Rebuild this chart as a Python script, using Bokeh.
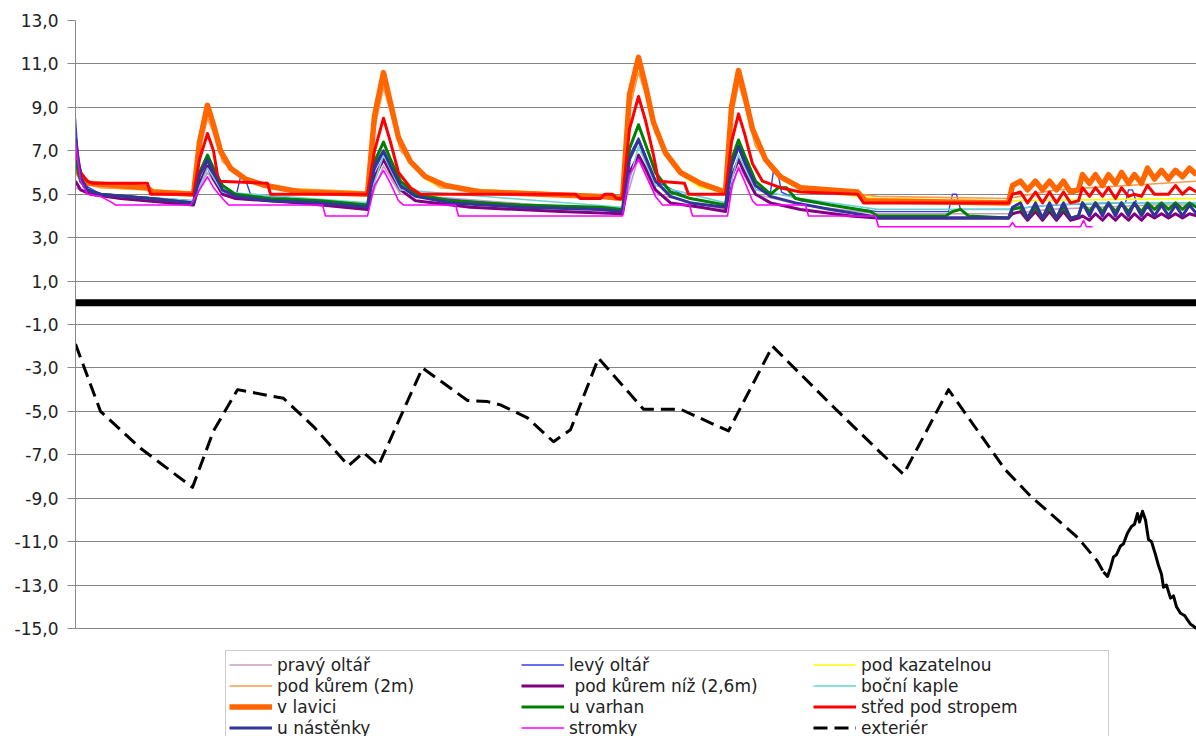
from bokeh.plotting import figure
from bokeh.models import Range1d, FixedTicker, Span, Legend, LegendItem, ColumnDataSource
from bokeh.embed import file_html
from bokeh.resources import INLINE

# ---------------- data ----------------
# measurement index (time axis, no labels shown in the original)
y_ticks = [13, 11, 9, 7, 5, 3, 1, -1, -3, -5, -7, -9, -11, -13, -15]
y_tick_labels = ["13,0", "11,0", "9,0", "7,0", "5,0", "3,0", "1,0", "-1,0",
                 "-3,0", "-5,0", "-7,0", "-9,0", "-11,0", "-13,0", "-15,0"]

# shared time index for the last (daily oscillation) part
tail_t = [937, 945, 952, 960, 967, 974, 981, 988, 995, 1003, 1007, 1014, 1020, 1027,
          1033, 1040, 1046, 1053, 1059, 1066, 1072, 1079, 1086, 1093, 1100, 1107, 1114, 1121]

pravy_oltar = [(0, 5.3), (10, 5.1), (118, 4.6), (132, 6.0), (147, 5.0), (292, 4.4), (308, 6.3),
               (325, 5.0), (547, 4.2), (563, 6.7), (580, 5.0), (650, 4.3), (663, 6.3), (680, 5.0),
               (725, 4.5), (802, 4.1), (933, 4.1), (975, 4.3), (1025, 4.4), (1075, 4.5), (1121, 4.5)]

levy_oltar = [(0, 8.5), (3, 6.5), (10, 5.4), (25, 5.0), (118, 4.7), (124, 5.8), (132, 6.5), (138, 5.9),
              (147, 5.2), (161, 5.0), (165, 5.8), (169, 5.8), (175, 5.0), (225, 4.8), (292, 4.5),
              (299, 6.1), (308, 6.9), (315, 6.2), (325, 5.3), (340, 4.9), (445, 4.5), (547, 4.3),
              (554, 6.8), (563, 7.6), (570, 6.8), (580, 5.6), (615, 4.8), (650, 4.5), (656, 6.3),
              (663, 7.1), (669, 6.4), (680, 5.2), (695, 5.1), (698, 6.1), (702, 6.1), (706, 5.1),
              (725, 4.7), (802, 4.2), (873, 4.2), (877, 5.0), (881, 5.0), (885, 4.3), (933, 4.3),
              (975, 4.5), (1050, 4.6), (1053, 5.2), (1057, 5.2), (1061, 4.6), (1121, 4.6)]

pod_kazatelnou = [(0, 6.4), (10, 5.6), (25, 5.3), (118, 5.1), (124, 7.2), (132, 8.8), (138, 8.0),
                  (147, 6.6), (170, 5.6), (195, 5.3), (292, 5.1), (299, 8.3), (308, 10.2), (315, 8.9),
                  (325, 7.2), (350, 5.7), (365, 5.3), (547, 4.9), (554, 9.2), (563, 10.9), (570, 9.7),
                  (580, 7.8), (605, 5.9), (625, 5.3), (650, 5.1), (656, 8.7), (663, 10.3), (669, 9.3),
                  (680, 7.3), (705, 5.7), (725, 5.2), (802, 4.8), (933, 4.7), (1121, 4.8)]

pod_kurem_2m = [(0, 6.2), (10, 5.5), (25, 5.3), (118, 5.1), (124, 7.0), (132, 8.5), (138, 7.8),
                (147, 6.5), (170, 5.6), (195, 5.3), (292, 5.1), (299, 8.0), (308, 9.9), (315, 8.8),
                (325, 7.0), (350, 5.8), (365, 5.3), (547, 4.9), (554, 8.9), (563, 10.6), (570, 9.6),
                (580, 7.8), (605, 5.9), (625, 5.4), (650, 5.1), (656, 8.4), (663, 10.1), (669, 9.2),
                (680, 7.2), (705, 5.8), (725, 5.3), (802, 4.9), (933, 4.8), (980, 5.2), (1121, 5.6)]

pod_kurem_niz = [(0, 5.6), (5, 5.2), (15, 5.0), (45, 4.8), (118, 4.5), (124, 5.5), (132, 6.3), (138, 5.7),
                 (147, 5.0), (160, 4.8), (225, 4.6), (292, 4.3), (299, 5.8), (308, 6.6), (315, 6.0),
                 (325, 5.2), (340, 4.7), (395, 4.4), (485, 4.2), (547, 4.1), (554, 6.0), (563, 6.8),
                 (570, 6.2), (580, 5.2), (595, 4.6), (625, 4.4), (650, 4.2), (656, 5.8), (663, 6.6),
                 (669, 6.0), (680, 5.0), (695, 4.6), (725, 4.3), (775, 4.0), (802, 3.9), (933, 3.9)]
pod_kurem_niz_tail = [4.1, 4.2, 3.8, 4.2, 3.8, 4.2, 3.8, 4.2, 3.8, 3.9, 4.0, 3.8, 4.1, 3.8,
                      4.1, 3.8, 4.1, 3.8, 4.1, 3.8, 4.1, 3.9, 4.1, 3.9, 4.1, 3.9, 4.1, 4.0]

bocni_kaple = [(0, 6.0), (10, 5.3), (25, 5.0), (118, 4.7), (132, 6.2), (147, 5.1), (292, 4.6), (308, 6.8),
               (325, 5.2), (547, 4.4), (563, 7.2), (580, 5.4), (650, 4.6), (663, 6.8), (680, 5.2),
               (725, 4.8), (802, 4.3), (933, 4.3), (975, 4.5), (1025, 4.6), (1121, 4.6)]

v_lavici = [(0, 6.3), (5, 5.8), (12, 5.5), (72, 5.3), (77, 5.1), (118, 5.0), (124, 7.4), (132, 9.1),
            (138, 8.2), (145, 7.0), (155, 6.2), (170, 5.7), (190, 5.4), (225, 5.1), (292, 5.0),
            (299, 8.6), (308, 10.6), (315, 9.2), (323, 7.6), (335, 6.5), (350, 5.8), (370, 5.4),
            (405, 5.1), (465, 5.0), (525, 4.9), (547, 4.8), (554, 9.6), (563, 11.3), (570, 10.0),
            (578, 8.3), (590, 6.9), (605, 6.0), (625, 5.5), (650, 5.1), (656, 9.0), (663, 10.7),
            (669, 9.6), (677, 8.0), (690, 6.6), (705, 5.8), (725, 5.3), (782, 5.1), (790, 4.7), (933, 4.6)]
v_lavici_tail = [5.4, 5.6, 5.2, 5.6, 5.2, 5.6, 5.2, 5.6, 5.1, 5.2, 5.9, 5.5, 5.9, 5.4,
                 5.9, 5.5, 6.0, 5.5, 5.9, 5.5, 6.2, 5.7, 6.1, 5.7, 6.1, 5.8, 6.2, 5.9]

u_varhan = [(0, 6.6), (5, 5.6), (12, 5.2), (25, 5.0), (75, 4.8), (118, 4.6), (124, 6.0), (132, 6.8),
            (138, 6.2), (147, 5.4), (160, 5.0), (195, 4.8), (245, 4.7), (292, 4.5), (299, 6.5),
            (308, 7.4), (315, 6.6), (325, 5.6), (340, 5.0), (375, 4.7), (445, 4.5), (525, 4.4),
            (547, 4.3), (554, 7.1), (563, 8.2), (570, 7.3), (580, 6.0), (595, 5.1), (615, 4.8),
            (650, 4.5), (656, 6.6), (663, 7.5), (669, 6.8), (680, 5.6), (695, 5.0), (703, 5.3),
            (711, 5.3), (720, 4.8), (755, 4.5), (795, 4.2), (802, 4.0), (870, 4.0), (877, 4.2),
            (885, 4.3), (893, 4.0), (933, 3.9)]
u_varhan_tail = [4.3, 4.4, 3.9, 4.4, 3.9, 4.4, 3.9, 4.4, 3.9, 4.0, 4.6, 4.2, 4.6, 4.2,
                 4.6, 4.2, 4.6, 4.2, 4.6, 4.2, 4.6, 4.3, 4.6, 4.3, 4.6, 4.3, 4.6, 4.4]

stred_pod_stropem = [(0, 7.2), (5, 6.0), (12, 5.6), (17, 5.5), (72, 5.5), (75, 5.0), (118, 5.0), (124, 6.6),
                     (132, 7.8), (138, 7.0), (143, 5.6), (192, 5.5), (195, 5.0), (292, 5.0), (299, 7.0),
                     (308, 8.5), (315, 7.4), (323, 6.0), (335, 5.3), (345, 5.0), (500, 5.0), (505, 4.8),
                     (525, 4.8), (529, 5.0), (537, 5.0), (541, 4.8), (547, 4.8), (554, 8.0), (563, 9.5),
                     (570, 8.4), (578, 6.8), (583, 5.6), (609, 5.5), (613, 5.0), (650, 5.0), (656, 7.4),
                     (663, 8.7), (669, 7.8), (677, 6.4), (687, 5.6), (705, 5.3), (725, 5.1), (782, 5.0),
                     (788, 4.6), (933, 4.6)]
stred_pod_stropem_tail = [5.0, 5.1, 4.6, 5.1, 4.6, 5.1, 4.6, 5.1, 4.6, 4.7, 5.3, 4.9, 5.3, 4.9,
                          5.3, 4.8, 5.3, 4.9, 5.0, 4.9, 5.4, 5.0, 5.0, 5.0, 5.4, 5.0, 5.3, 5.1]

u_nastenky = [(0, 7.6), (5, 5.8), (12, 5.2), (25, 5.0), (75, 4.8), (118, 4.6), (124, 5.9), (132, 6.6),
              (138, 6.0), (147, 5.2), (160, 4.9), (195, 4.7), (245, 4.6), (292, 4.4), (299, 6.3),
              (308, 7.0), (315, 6.3), (325, 5.4), (340, 4.9), (375, 4.6), (445, 4.4), (525, 4.3),
              (547, 4.2), (554, 6.6), (563, 7.5), (570, 6.7), (580, 5.6), (595, 4.9), (615, 4.6),
              (650, 4.4), (656, 6.3), (663, 7.2), (669, 6.5), (680, 5.4), (695, 4.9), (720, 4.6),
              (755, 4.3), (795, 4.0), (802, 3.9), (933, 3.9)]
u_nastenky_tail = [4.4, 4.6, 3.9, 4.6, 3.9, 4.6, 3.9, 4.6, 3.9, 4.0, 4.6, 4.0, 4.6, 4.0,
                   4.6, 4.0, 4.6, 4.0, 4.6, 4.0, 4.5, 4.0, 4.5, 4.0, 4.5, 4.0, 4.5, 4.1]

stromky = [(0, 7.4), (5, 5.6), (12, 5.0), (25, 4.9), (37, 4.6), (40, 4.5), (115, 4.5), (124, 5.2),
           (132, 5.8), (138, 5.3), (147, 4.8), (153, 4.5), (247, 4.5), (250, 4.0), (292, 4.0),
           (299, 5.4), (308, 6.1), (315, 5.5), (323, 4.7), (328, 4.5), (380, 4.5), (383, 4.0),
           (547, 4.0), (554, 5.9), (563, 6.6), (570, 5.9), (580, 4.9), (587, 4.5), (614, 4.5),
           (617, 4.0), (652, 4.0), (657, 5.5), (663, 6.2), (669, 5.6), (677, 4.7), (681, 4.5),
           (730, 4.5), (733, 4.0), (800, 4.0), (803, 3.5), (934, 3.5), (937, 3.7), (940, 3.5),
           (1005, 3.5), (1008, 3.8), (1011, 3.5), (1017, 3.5)]

exterier = [(0, -1.9), (25, -5.0), (65, -6.7), (117, -8.5), (138, -5.9), (162, -4.0), (208, -4.4),
            (238, -5.7), (273, -7.5), (288, -6.9), (303, -7.5), (347, -3.0), (392, -4.5), (412, -4.55),
            (425, -4.7), (452, -5.3), (478, -6.4), (495, -5.85), (523, -2.55), (568, -4.9), (605, -4.9),
            (643, -5.7), (653, -5.9), (697, -2.0), (758, -4.8), (805, -6.9), (828, -7.9), (873, -4.0),
            (930, -7.7), (955, -8.9), (1002, -10.8), (1022, -11.9), (1028, -12.4)]
exterier_hourly = [(1028, -12.4), (1032, -12.6), (1035, -12.2), (1038, -11.7), (1041, -11.6), (1045, -11.2),
                   (1048, -11.1), (1052, -10.6), (1056, -10.3), (1059, -10.2), (1062, -9.7), (1064, -10.1),
                   (1067, -9.6), (1070, -10.0), (1073, -10.9), (1076, -11.0), (1080, -11.6), (1083, -12.1),
                   (1086, -12.5), (1088, -13.1), (1091, -13.0), (1095, -13.6), (1098, -13.5), (1101, -14.0),
                   (1105, -14.3), (1109, -14.4), (1112, -14.6), (1115, -14.8), (1118, -14.9), (1121, -15.0)]

# ---------------- figure ----------------
# the frame reaches down to the canvas bottom so the legend (placed below the
# -15 line) is not clipped; axis line and grid are bounded to -15..13
y_bottom = 13 - 716 / (608 / 28)
p = figure(width=1196, height=736, output_backend="svg", toolbar_location=None,
           x_range=Range1d(0, 1121), y_range=Range1d(y_bottom, 13),
           min_border_left=75, min_border_right=0, min_border_top=20, min_border_bottom=0)
p.outline_line_color = None
p.background_fill_color = "white"
p.border_fill_color = "white"
p.xaxis.visible = False
p.xgrid.visible = False

ticker = FixedTicker(ticks=y_ticks)
p.yaxis.ticker = ticker
p.ygrid.ticker = ticker
p.yaxis.bounds = (-15, 13)
p.yaxis.major_label_overrides = dict(zip(y_ticks, y_tick_labels))
p.yaxis.axis_line_color = "#8a8a8a"
p.yaxis.major_tick_line_color = "#8a8a8a"
p.yaxis.major_tick_out = 8
p.yaxis.major_tick_in = 0
p.yaxis.minor_tick_line_color = None
p.yaxis.major_label_standoff = 9
p.yaxis.major_label_text_font = "DejaVu Sans"
p.yaxis.major_label_text_font_size = "17px"
p.yaxis.major_label_text_color = "#222222"
p.ygrid.grid_line_color = "#858585"
p.ygrid.grid_line_width = 1

p.add_layout(Span(location=0, dimension="width", line_color="black", line_width=7))


def src_from(pairs, tail=None):
    xs = [a for a, _ in pairs]
    ys = [b for _, b in pairs]
    if tail is not None:
        xs = xs + tail_t
        ys = ys + tail
    return ColumnDataSource(dict(t=xs, v=ys))


series = [
    ("pravý oltář", pravy_oltar, None, "#C79BC0", 1.6, None),
    ("levý oltář", levy_oltar, None, "#3B3BE8", 1.4, None),
    ("pod kazatelnou", pod_kazatelnou, None, "#FFFF00", 1.6, None),
    ("pod kůrem (2m)", pod_kurem_2m, None, "#FF9A4D", 1.6, None),
    (" pod kůrem níž (2,6m)", pod_kurem_niz, pod_kurem_niz_tail, "#800080", 3, None),
    ("boční kaple", bocni_kaple, None, "#6AD3D3", 1.6, None),
    ("v lavici", v_lavici, v_lavici_tail, "#FF6600", 5.5, None),
    ("u varhan", u_varhan, u_varhan_tail, "#008000", 3, None),
    ("střed pod stropem", stred_pod_stropem, stred_pod_stropem_tail, "#FF0000", 3, None),
    ("u nástěnky", u_nastenky, u_nastenky_tail, "#333399", 3, None),
    ("stromky", stromky, None, "#FF00FF", 1.6, None),
    ("exteriér", exterier, None, "#000000", 3, "14 7"),
]

items = []
for label, pairs, tail, color, width, dash in series:
    kw = {}
    if dash:
        kw["line_dash"] = dash
    r = p.line("t", "v", source=src_from(pairs, tail), line_color=color, line_width=width,
               line_join="round", **kw)
    items.append(LegendItem(label=label, renderers=[r]))

p.line("t", "v", source=src_from(exterier_hourly), line_color="black", line_width=3, line_join="round")

legend = Legend(items=items, orientation="horizontal", ncols=3, location=(150, -6),
                glyph_width=43, glyph_height=21, label_height=21, label_width=244,
                label_standoff=5, spacing=0, padding=3, margin=0,
                label_text_font="DejaVu Sans", label_text_font_size="17px",
                label_text_color="#222222", border_line_color="#9a9a9a", border_line_width=1,
                background_fill_color="white", background_fill_alpha=1.0)
p.add_layout(legend, "center")

open("out.html", "w").write(file_html(p, INLINE))
